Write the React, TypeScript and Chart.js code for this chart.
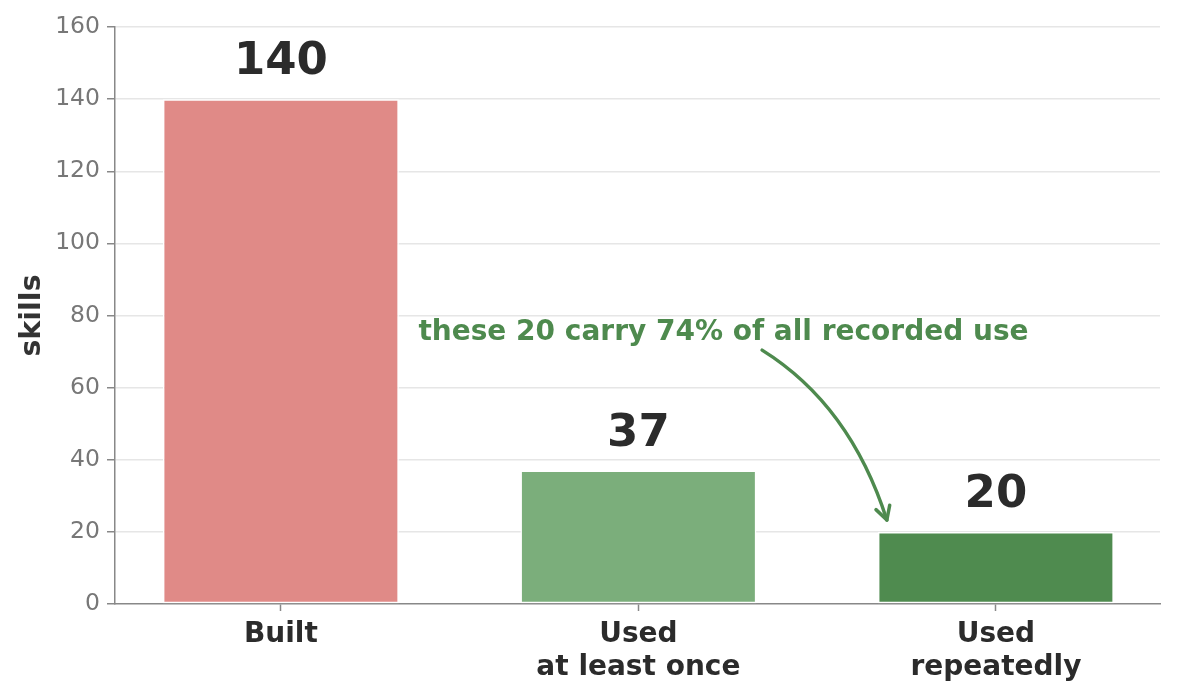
import React, { useEffect, useRef } from "react";
import { Chart, registerables } from "chart.js";

Chart.register(...registerables);

// ---- data ----
const categories: string[][] = [["Built"], ["Used", "at least once"], ["Used", "repeatedly"]];
const values: number[] = [140, 37, 20];
const barColors: string[] = ["#E08A87", "#7BAE7B", "#4F8B4F"];
const yTickValues: number[] = [0, 20, 40, 60, 80, 100, 120, 140, 160];
const yAxisTitle = "skills";

// annotation (data coordinates)
const annotationText = "these 20 carry 74% of all recorded use";
const annotationTextAt = { x: 1.238, y: 73.3 };
const arrowFrom = { x: 1.346, y: 70.4 };
const arrowBend = { x: 1.592, y: 55.2 };
const arrowTo = { x: 1.695, y: 23.3 };

const FONT = "'DejaVu Sans', 'Liberation Sans', sans-serif";
const GREEN_TEXT = "#4E8A4E";
const DARK = "#2B2B2B";
const AXIS = "#888888";

const overlayPlugin = {
  id: "overlay",
  afterDatasetsDraw(chart: any) {
    const ctx = chart.ctx as CanvasRenderingContext2D;
    const xs = chart.scales.x;
    const ys = chart.scales.y;
    const meta = chart.getDatasetMeta(0);
    ctx.save();
    // value labels
    ctx.font = `bold 45px ${FONT}`;
    ctx.fillStyle = DARK;
    ctx.textAlign = "center";
    ctx.textBaseline = "alphabetic";
    meta.data.forEach((bar: any, i: number) => {
      ctx.fillText(String(values[i]), bar.x, bar.y - 25);
    });
    // annotation text
    ctx.font = `bold 28px ${FONT}`;
    ctx.fillStyle = GREEN_TEXT;
    ctx.fillText(
      annotationText,
      xs.getPixelForValue(annotationTextAt.x),
      ys.getPixelForValue(annotationTextAt.y)
    );
    // curved arrow
    const p0 = { x: xs.getPixelForValue(arrowFrom.x), y: ys.getPixelForValue(arrowFrom.y) };
    const c = { x: xs.getPixelForValue(arrowBend.x), y: ys.getPixelForValue(arrowBend.y) };
    const p2 = { x: xs.getPixelForValue(arrowTo.x), y: ys.getPixelForValue(arrowTo.y) };
    ctx.strokeStyle = GREEN_TEXT;
    ctx.lineWidth = 3.5;
    ctx.lineCap = "round";
    ctx.lineJoin = "round";
    ctx.beginPath();
    ctx.moveTo(p0.x, p0.y);
    ctx.quadraticCurveTo(c.x, c.y, p2.x, p2.y);
    ctx.stroke();
    const ang = Math.atan2(p2.y - c.y, p2.x - c.x);
    const len = 15;
    const spread = 0.5;
    ctx.beginPath();
    ctx.moveTo(p2.x - len * Math.cos(ang - spread), p2.y - len * Math.sin(ang - spread));
    ctx.lineTo(p2.x, p2.y);
    ctx.lineTo(p2.x - len * Math.cos(ang + spread), p2.y - len * Math.sin(ang + spread));
    ctx.stroke();
    ctx.restore();
  },
};

export default function App() {
  const canvasRef = useRef<HTMLCanvasElement | null>(null);

  useEffect(() => {
    if (!canvasRef.current) return;
    const chart = new Chart(canvasRef.current, {
      type: "bar",
      data: {
        datasets: [
          {
            data: values.map((v, i) => ({ x: i, y: v })),
            backgroundColor: barColors,
            borderColor: "#FFFFFF",
            borderWidth: 1.5,
            borderSkipped: false,
            barPercentage: 0.66,
            categoryPercentage: 1,
          } as any,
        ],
      },
      options: {
        animation: false,
        responsive: true,
        maintainAspectRatio: false,
        layout: { padding: { top: 27, right: 19, left: 0, bottom: 0 } },
        plugins: {
          legend: { display: false },
          tooltip: { enabled: false },
        },
        scales: {
          x: {
            type: "linear",
            offset: false,
            min: -0.464,
            max: 2.459,
            afterBuildTicks: (scale: any) => {
              scale.ticks = categories.map((_, i) => ({ value: i }));
            },
            afterFit: (scale: any) => {
              scale.height = 93;
            },
            ticks: {
              autoSkip: false,
              maxRotation: 0,
              padding: 8,
              color: DARK,
              font: { family: FONT, size: 28, weight: "bold", lineHeight: 1.15 },
              callback: (v: any) => categories[v as number] ?? "",
            },
            grid: {
              offset: false,
              drawOnChartArea: false,
              drawTicks: true,
              tickLength: 7,
              tickColor: AXIS,
              tickWidth: 1.5,
            },
            border: { display: true, color: AXIS, width: 1.5 },
          },
          y: {
            min: 0,
            max: 160,
            afterBuildTicks: (scale: any) => {
              scale.ticks = yTickValues.map((v) => ({ value: v }));
            },
            afterFit: (scale: any) => {
              scale.width = 115;
            },
            ticks: {
              padding: 7,
              color: "#777777",
              font: { family: FONT, size: 23.5 },
            },
            grid: {
              color: (c: any) => (c.tick && c.tick.value === 0 ? "rgba(0,0,0,0)" : "#E6E6E6"),
              lineWidth: 1.5,
              drawTicks: true,
              tickLength: 8,
              tickColor: AXIS,
              tickWidth: 1.5,
            },
            border: { display: true, color: AXIS, width: 1.5 },
            title: {
              display: true,
              text: yAxisTitle,
              color: "#333333",
              font: { family: FONT, size: 28.5, weight: "bold" },
              padding: { top: 15, bottom: 0 },
            },
          },
        },
      },
      plugins: [overlayPlugin],
    });
    return () => chart.destroy();
  }, []);

  return (
    <div style={{ position: "absolute", left: 0, top: 0, width: 1179, height: 697, background: "#fff" }}>
      <canvas ref={canvasRef} />
    </div>
  );
}
